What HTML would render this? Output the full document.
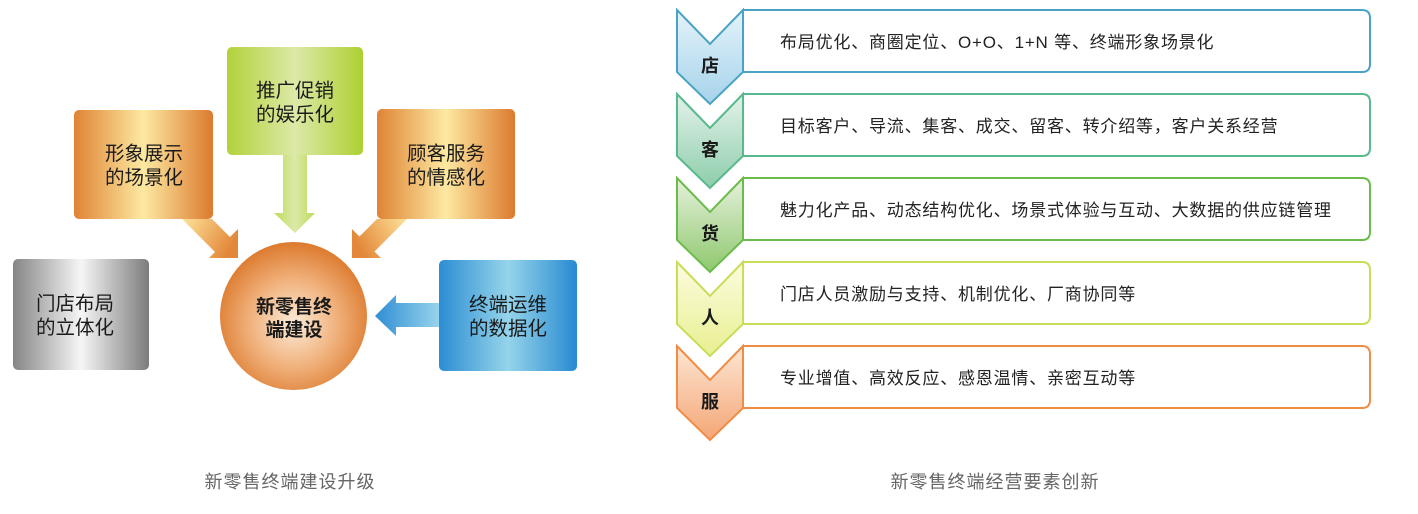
<!DOCTYPE html>
<html><head><meta charset="utf-8"><style>
body{margin:0;background:#fff;width:1418px;height:514px;overflow:hidden}
svg{display:block}
text{font-family:"Liberation Sans","Noto Sans CJK SC",sans-serif}
</style></head><body>
<svg width="1418" height="514" viewBox="0 0 1418 514" xmlns="http://www.w3.org/2000/svg">
<defs>
<linearGradient id="gOr" x1="0" x2="1" y1="0" y2="0"><stop offset="0" stop-color="#df8434"/><stop offset="0.5" stop-color="#fde9a2"/><stop offset="1" stop-color="#dc7a2e"/></linearGradient>
<linearGradient id="gGr" x1="0" x2="1"><stop offset="0" stop-color="#b2d23a"/><stop offset="0.5" stop-color="#dce9a8"/><stop offset="1" stop-color="#add032"/></linearGradient>
<linearGradient id="gGy" x1="0" x2="1"><stop offset="0" stop-color="#858585"/><stop offset="0.5" stop-color="#f6f6f6"/><stop offset="1" stop-color="#7c7c7c"/></linearGradient>
<linearGradient id="gBl" x1="0" x2="1"><stop offset="0" stop-color="#2c8dd3"/><stop offset="0.5" stop-color="#95d4ea"/><stop offset="1" stop-color="#288ad1"/></linearGradient>
<radialGradient id="gC" cx="0.5" cy="0.55" r="0.55"><stop offset="0" stop-color="#fcebd8"/><stop offset="0.55" stop-color="#f0b07a"/><stop offset="1" stop-color="#dc7a2e"/></radialGradient>
<linearGradient id="aL" x1="0" y1="0" x2="1" y2="0.4"><stop offset="0" stop-color="#fde39a"/><stop offset="1" stop-color="#e3883a"/></linearGradient>
<linearGradient id="aR" x1="1" y1="0" x2="0" y2="0.4"><stop offset="0" stop-color="#fde39a"/><stop offset="1" stop-color="#e3883a"/></linearGradient>
<linearGradient id="aG" x1="0" x2="1"><stop offset="0" stop-color="#bedb5a"/><stop offset="0.5" stop-color="#dce9a8"/><stop offset="1" stop-color="#bedb5a"/></linearGradient>
<linearGradient id="aB" x1="0" x2="1"><stop offset="0" stop-color="#2f8ed3"/><stop offset="1" stop-color="#98d3ec"/></linearGradient>
<linearGradient id="c1" x1="0" y1="0" x2="0" y2="1"><stop offset="0" stop-color="#e4f3fa"/><stop offset="1" stop-color="#a6d3ea"/></linearGradient>
<linearGradient id="c2" x1="0" y1="0" x2="0" y2="1"><stop offset="0" stop-color="#e4f2ea"/><stop offset="1" stop-color="#8dcdab"/></linearGradient>
<linearGradient id="c3" x1="0" y1="0" x2="0" y2="1"><stop offset="0" stop-color="#e6f1dc"/><stop offset="1" stop-color="#8fc86e"/></linearGradient>
<linearGradient id="c4" x1="0" y1="0" x2="0" y2="1"><stop offset="0" stop-color="#fcfce0"/><stop offset="1" stop-color="#e8ef90"/></linearGradient>
<linearGradient id="c5" x1="0" y1="0" x2="0" y2="1"><stop offset="0" stop-color="#fde6d4"/><stop offset="1" stop-color="#f4a676"/></linearGradient>
</defs>

<polygon points="182,219 212,219 230,237 238,229 238,258 209,258 215,252" fill="url(#aL)"/>
<polygon points="377,219 407,219 374.5,251.5 381,258 352,258 352,229 359.5,236.5" fill="url(#aR)"/>
<polygon points="283,155 307,155 307,213 315,213 295,233 274,213 283,213" fill="url(#aG)"/>
<polygon points="439,303 396,303 396,295 375,316 396,336 396,327 439,327" fill="url(#aB)"/>

<rect x="74" y="110" width="139" height="109" rx="5" fill="url(#gOr)"/>
<rect x="227" y="47" width="136" height="108" rx="5" fill="url(#gGr)"/>
<rect x="377" y="109" width="138" height="110" rx="5" fill="url(#gOr)"/>
<rect x="13" y="259" width="136" height="111" rx="5" fill="url(#gGy)"/>
<rect x="439" y="260" width="138" height="111" rx="5" fill="url(#gBl)"/>
<ellipse cx="293.5" cy="316" rx="73.5" ry="74" fill="url(#gC)"/>

<g font-size="19.5" fill="#1a1a1a" text-anchor="middle">
<text x="144" y="160">形象展示</text><text x="144" y="184">的场景化</text>
<text x="295" y="97">推广促销</text><text x="295" y="121">的娱乐化</text>
<text x="446" y="160">顾客服务</text><text x="446" y="184">的情感化</text>
<text x="75" y="310">门店布局</text><text x="75" y="334">的立体化</text>
<text x="508" y="311">终端运维</text><text x="508" y="335">的数据化</text>
</g>
<g font-size="19" font-weight="bold" fill="#1a1a1a" text-anchor="middle">
<text x="294" y="313">新零售终</text><text x="294" y="336">端建设</text>
</g>

<g stroke-width="2">
<g>
<path d="M743,10 H1362 Q1370,10 1370,18 V64 Q1370,72 1362,72 H743 Z" fill="#fff" stroke="#4aa3c5"/>
<polygon points="677,10 710,44 743,10 743,72 710,104 677,72" fill="url(#c1)" stroke="#4aa3c5"/>
</g>
<g transform="translate(0,84)">
<path d="M743,10 H1362 Q1370,10 1370,18 V64 Q1370,72 1362,72 H743 Z" fill="#fff" stroke="#58b98c"/>
<polygon points="677,10 710,44 743,10 743,72 710,104 677,72" fill="url(#c2)" stroke="#58b98c"/>
</g>
<g transform="translate(0,168)">
<path d="M743,10 H1362 Q1370,10 1370,18 V64 Q1370,72 1362,72 H743 Z" fill="#fff" stroke="#6bbb4d"/>
<polygon points="677,10 710,44 743,10 743,72 710,104 677,72" fill="url(#c3)" stroke="#6bbb4d"/>
</g>
<g transform="translate(0,252)">
<path d="M743,10 H1362 Q1370,10 1370,18 V64 Q1370,72 1362,72 H743 Z" fill="#fff" stroke="#cadd58"/>
<polygon points="677,10 710,44 743,10 743,72 710,104 677,72" fill="url(#c4)" stroke="#cadd58"/>
</g>
<g transform="translate(0,336)">
<path d="M743,10 H1362 Q1370,10 1370,18 V64 Q1370,72 1362,72 H743 Z" fill="#fff" stroke="#ef8c45"/>
<polygon points="677,10 710,44 743,10 743,72 710,104 677,72" fill="url(#c5)" stroke="#ef8c45"/>
</g>
</g>
<g font-size="18" font-weight="bold" fill="#1a1a1a" text-anchor="middle">
<text x="710" y="72">店</text><text x="710" y="156">客</text><text x="710" y="240">货</text><text x="710" y="324">人</text><text x="710" y="408">服</text>
</g>
<g font-size="17" fill="#222" letter-spacing="0.8">
<text x="780" y="48">布局优化、商圈定位、O+O、1+N 等、终端形象场景化</text>
<text x="780" y="132">目标客户、导流、集客、成交、留客、转介绍等，客户关系经营</text>
<text x="780" y="216">魅力化产品、动态结构优化、场景式体验与互动、大数据的供应链管理</text>
<text x="780" y="300">门店人员激励与支持、机制优化、厂商协同等</text>
<text x="780" y="384">专业增值、高效反应、感恩温情、亲密互动等</text>
</g>
<g font-size="18" fill="#666" text-anchor="middle" letter-spacing="1">
<text x="290" y="488">新零售终端建设升级</text>
<text x="995" y="488">新零售终端经营要素创新</text>
</g>
</svg>
</body></html>
